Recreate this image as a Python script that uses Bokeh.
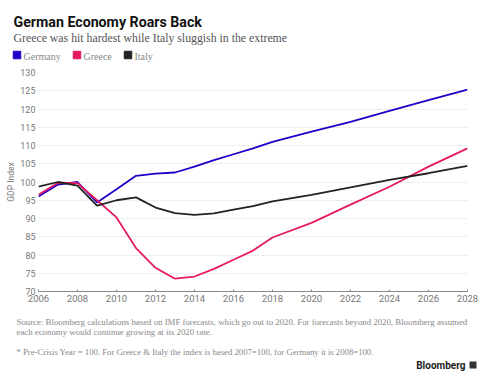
from bokeh.plotting import figure
from bokeh.layouts import column
from bokeh.models import Range1d, FixedTicker, ColumnDataSource
from bokeh.core.properties import value
from bokeh.embed import file_html
from bokeh.resources import INLINE

years = list(range(2006, 2017)) + [2017, 2018, 2020, 2022, 2024, 2026, 2028]
germany = [96.0, 99.3, 100.0, 94.4, 98.0, 101.7, 102.3, 102.6, 104.2, 106.0, 107.6, 109.2, 111.0, 113.8, 116.5, 119.5, 122.4, 125.3]
greece = [96.5, 99.8, 99.7, 95.0, 90.3, 81.9, 76.5, 73.5, 74.1, 76.2, 78.7, 81.2, 84.8, 88.8, 93.8, 98.7, 104.2, 109.2]
italy = [98.7, 100.0, 99.0, 93.5, 95.0, 95.8, 93.0, 91.5, 91.0, 91.4, 92.4, 93.4, 94.7, 96.5, 98.5, 100.6, 102.4, 104.4]
series_names = ["Germany", "Greece", "Italy"]
series_colors = ["#2000c8", "#e61a63", "#222222"]
x_ticks = list(range(2006, 2029, 2))
y_ticks = list(range(70, 131, 5))

title_text = "German Economy Roars Back"
subtitle_text = "Greece was hit hardest while Italy sluggish in the extreme"
source_lines = ["Source: Bloomberg calculations based on IMF forecasts, which go out to 2020. For forecasts beyond 2020, Bloomberg assumed",
                "each economy would continue growing at its 2020 rate."]
note_text = "* Pre-Crisis Year = 100. For Greece & Italy the index is based 2007=100, for Germany it is 2008=100."
brand_text = "Bloomberg"

W = 488
H_TOP, H_MAIN, H_FOOT = 66, 244, 70


def blank(h):
    f = figure(width=W, height=h, output_backend="svg", toolbar_location=None,
               x_axis_location=None, y_axis_location=None,
               x_range=Range1d(0, W), y_range=Range1d(h, 0),
               min_border=0, min_border_left=0, min_border_right=0, min_border_top=0, min_border_bottom=0)
    f.frame_align = False
    f.grid.visible = False
    f.outline_line_color = None
    f.background_fill_color = "white"
    f.border_fill_color = "white"
    return f

# ---- header
top = blank(H_TOP)
top.text(x=[13], y=[21], text=[title_text], text_font=value("Roboto"), text_font_style="bold",
         text_font_size="14.2px", text_color="#111111", text_baseline="middle")
top.text(x=[13], y=[37], text=[subtitle_text], text_font=value("Liberation Serif"),
         text_font_size="11.8px", text_color="#555555", text_baseline="middle")
leg_x = [16.5, 76.5, 127.5]
for lx, name, col in zip(leg_x, series_names, series_colors):
    top.scatter(x=[lx], y=[54.5], marker="square", size=7.5, fill_color=col, line_color=col)
    top.text(x=[lx + 6.5], y=[55.5], text=[name], text_font=value("Liberation Serif"),
             text_font_size="10px", text_color="#888888", text_baseline="middle")

# ---- main chart
p = figure(width=W, height=H_MAIN, output_backend="svg", toolbar_location=None,
           x_range=Range1d(2006, 2028), y_range=Range1d(70, 130),
           min_border_left=38, min_border_right=21, min_border_top=6, min_border_bottom=19)
p.frame_align = False
p.outline_line_color = None
p.background_fill_color = "white"
p.border_fill_color = "white"

src = ColumnDataSource(dict(year=years, Germany=germany, Greece=greece, Italy=italy))
for name, col in zip(series_names, series_colors):
    p.line("year", name, source=src, line_color=col, line_width=1.8)

p.xgrid.grid_line_color = None
p.ygrid.grid_line_color = "#eeeeee"
p.ygrid.ticker = FixedTicker(ticks=y_ticks)

p.xaxis.ticker = FixedTicker(ticks=x_ticks)
p.xaxis.axis_line_color = "#888888"
p.xaxis.major_tick_line_color = "#888888"
p.xaxis.major_tick_in = 2
p.xaxis.major_tick_out = 0
p.xaxis.minor_tick_line_color = None
p.xaxis.major_label_text_font = "Roboto"
p.xaxis.major_label_text_font_size = "9.5px"
p.xaxis.major_label_text_color = "#777777"
p.xaxis.major_label_standoff = 3

p.yaxis.ticker = FixedTicker(ticks=y_ticks)
p.yaxis.axis_line_color = None
p.yaxis.major_tick_line_color = None
p.yaxis.major_tick_out = 0
p.yaxis.major_tick_in = 0
p.yaxis.minor_tick_line_color = None
p.yaxis.major_label_text_font = "Roboto"
p.yaxis.major_label_text_font_size = "9px"
p.yaxis.major_label_text_color = "#777777"
p.yaxis.major_label_standoff = 3
p.yaxis.axis_label = "GDP Index"
p.yaxis.axis_label_text_font = "Roboto"
p.yaxis.axis_label_text_font_style = "normal"
p.yaxis.axis_label_text_font_size = "8.5px"
p.yaxis.axis_label_text_color = "#777777"
p.yaxis.axis_label_standoff = 1

# ---- footer
foot = blank(H_FOOT)
for i, line in enumerate(source_lines):
    foot.text(x=[16], y=[11 + 10 * i], text=[line], text_font=value("Liberation Serif"),
              text_font_size="8.8px", text_color="#888888", text_baseline="middle")
foot.text(x=[16], y=[41], text=[note_text], text_font=value("Liberation Serif"),
          text_font_size="8.7px", text_color="#888888", text_baseline="middle")
foot.text(x=[465], y=[55], text=[brand_text], text_font=value("Roboto"), text_font_style="bold",
          text_font_size="10px", text_color="#222222", text_baseline="middle", text_align="right")
foot.rect(x=[472.5], y=[54.5], width=7, height=7, fill_color="#333333", line_color=None)

layout = column(top, p, foot, spacing=0)
open("out.html", "w").write(file_html(layout, INLINE))
